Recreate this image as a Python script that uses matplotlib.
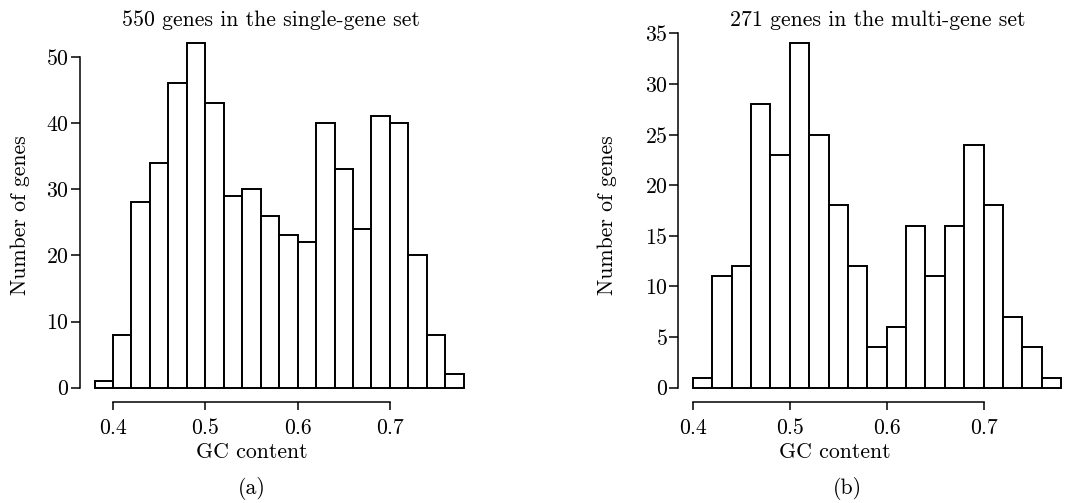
import matplotlib
matplotlib.use("Agg")
import matplotlib.pyplot as plt
import numpy as np

# GC content histograms, bin width 0.02
bin_width = 0.02
single_start = 0.38
single_counts = [1, 8, 28, 34, 46, 52, 43, 29, 30, 26, 23, 22, 40, 33, 24, 41, 40, 20, 8, 2]
multi_start = 0.40
multi_counts = [1, 11, 12, 28, 23, 34, 25, 18, 12, 4, 6, 16, 11, 16, 24, 18, 7, 4, 1]

x_ticks = [0.4, 0.5, 0.6, 0.7]
single_yticks = [0, 10, 20, 30, 40, 50]
multi_yticks = [0, 5, 10, 15, 20, 25, 30, 35]

plt.rcParams["font.family"] = "serif"
plt.rcParams["font.serif"] = ["cmr10", "DejaVu Serif"]
plt.rcParams["axes.formatter.use_mathtext"] = True
plt.rcParams["font.size"] = 15.7

W, H = 1070, 503
fig = plt.figure(figsize=(W / 100, H / 100), dpi=100)


def px(x, y):
    return x / W, 1 - y / H


def draw_panel(rect, start, counts, yticks, title, tag, title_x, ylab_x, xlab_x, tag_x):
    ax = fig.add_axes(rect)
    lefts = start + bin_width * np.arange(len(counts))
    ax.bar(lefts, counts, width=bin_width, align="edge",
           facecolor="white", edgecolor="black", linewidth=1.4)
    lo, hi = lefts[0], lefts[-1] + bin_width
    pad = 0.04 * (hi - lo)
    ax.set_xlim(lo - pad, hi + pad)
    ymax = max(counts)
    ax.set_ylim(-0.04 * ymax, 1.04 * ymax)
    for s in ["top", "right"]:
        ax.spines[s].set_visible(False)
    ax.spines["left"].set_bounds(yticks[0], yticks[-1])
    ax.spines["bottom"].set_bounds(x_ticks[0], x_ticks[-1])
    for s in ["left", "bottom"]:
        ax.spines[s].set_linewidth(1.1)
    ax.set_xticks(x_ticks)
    ax.set_xticklabels([f"{t:.1f}" for t in x_ticks])
    ax.set_yticks(yticks)
    ax.tick_params(axis="x", length=6, width=1.1, pad=6)
    ax.tick_params(axis="y", length=6.5, width=1.1, pad=1)
    ax.set_facecolor("none")

    fig.text(*px(title_x, 20), title, ha="center", va="center")
    fig.text(*px(ylab_x, 215), "Number of genes", rotation=90, ha="center", va="center")
    fig.text(*px(xlab_x, 452), "GC content", ha="center", va="center")
    fig.text(*px(tag_x, 489), tag, ha="center", va="center")
    return ax


draw_panel([79.8 / W, 1 - 401.5 / H, 398.7 / W, 371.8 / H],
           single_start, single_counts, single_yticks,
           "550 genes in the single-gene set", "(a)", 271, 20, 252, 252)
draw_panel([678 / W, 1 - 401.5 / H, 398 / W, 371.8 / H],
           multi_start, multi_counts, multi_yticks,
           "271 genes in the multi-gene set", "(b)", 878, 607, 835, 847)

fig.savefig("out.png", dpi=100)
